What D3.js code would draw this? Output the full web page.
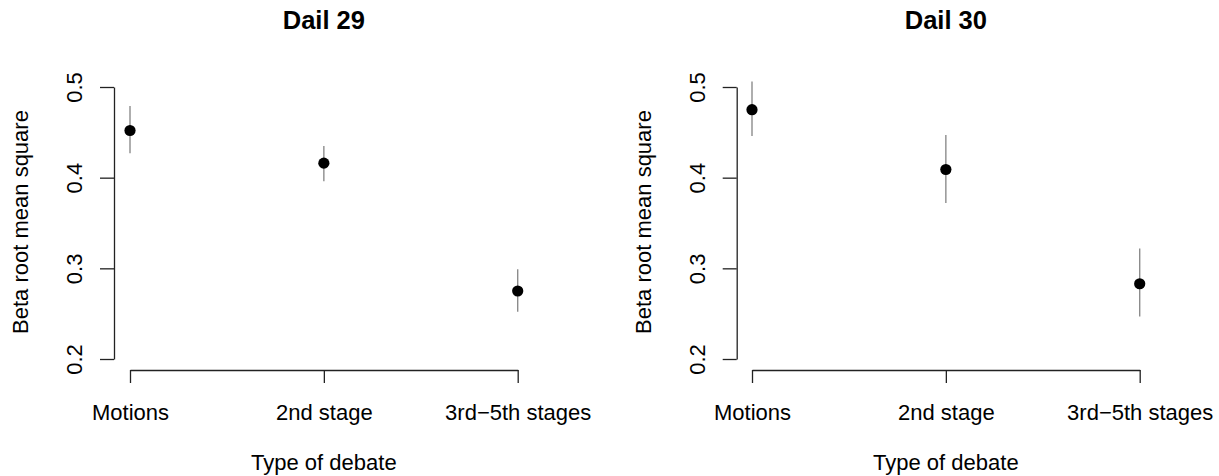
<!DOCTYPE html>
<head>
    <meta charset="utf-8">
    <style>
        body { margin: 0; background: #fff; font-family: 'Liberation Sans', Arial, sans-serif; }
        svg { position: absolute; top: 0; left: 0; }
        .panel-title { font-size: 25.5px; font-weight: bold; text-anchor: middle; fill: #000; }
        .axis-title { font-size: 22px; text-anchor: middle; fill: #000; }
        .axis text { font-family: 'Liberation Sans', Arial, sans-serif; font-size: 22px; fill: #000; }
        .axis path, .axis line { stroke: #222; stroke-width: 1.3; }
        .err { stroke: #8c8c8c; stroke-width: 1.4; }
        .pt { fill: #000; }
    </style>
    <script src="https://cdn.jsdelivr.net/npm/d3@7"></script>
</head>
<body>
<script>
////////////// Data //////////////

const categories = ["Motions", "2nd stage", "3rd\u22125th stages"]
const y_ticks = [0.2, 0.3, 0.4, 0.5]

const panel_titles = ["Dail 29", "Dail 30"]

//point estimates and interval ends
const dail29_est = [0.452, 0.416, 0.275]
const dail29_lo  = [0.427, 0.396, 0.252]
const dail29_hi  = [0.479, 0.435, 0.299]

const dail30_est = [0.475, 0.409, 0.283]
const dail30_lo  = [0.446, 0.372, 0.247]
const dail30_hi  = [0.506, 0.447, 0.322]

////////////// Layout //////////////

const W = 1219, H = 476
const svg = d3.select("body").append("svg")
    .attr("width", W)
    .attr("height", H)

//left edge of y axis and x range for each panel
const panels = [
    { title: panel_titles[0], est: dail29_est, lo: dail29_lo, hi: dail29_hi, axisX: 114, x0: 130, x1: 517.7 },
    { title: panel_titles[1], est: dail30_est, lo: dail30_lo, hi: dail30_hi, axisX: 736.7, x0: 752, x1: 1139.7 }
]

const y_scale = d3.scaleLinear()
    .domain([0.2, 0.5])
    .range([359, 87])

const x_axis_y = 370

panels.forEach(p => {
    const x_scale = d3.scalePoint()
        .domain(categories)
        .range([p.x0, p.x1])

    const g = svg.append("g")

    //title
    g.append("text")
        .attr("class", "panel-title")
        .attr("x", (p.x0 + p.x1) / 2)
        .attr("y", 28.5)
        .text(p.title)

    //y axis
    const y_axis = g.append("g")
        .attr("class", "axis y")
        .attr("transform", "translate(" + p.axisX + ",0)")
        .call(d3.axisLeft(y_scale)
            .tickValues(y_ticks)
            .tickFormat(d3.format(".1f"))
            .tickSize(14)
            .tickSizeOuter(0))
    y_axis.selectAll("text")
        .attr("x", null)
        .attr("dy", null)
        .attr("text-anchor", "middle")
        .attr("transform", "translate(-32,0) rotate(-90)")

    //x axis
    const x_axis = g.append("g")
        .attr("class", "axis x")
        .attr("transform", "translate(0," + x_axis_y + ")")
        .call(d3.axisBottom(x_scale)
            .tickSize(13)
            .tickSizeOuter(0))
    x_axis.selectAll("text")
        .attr("y", 50)
        .attr("dy", null)

    //axis titles
    g.append("text")
        .attr("class", "axis-title")
        .attr("transform", "translate(" + (p.axisX - 86) + "," + 222 + ") rotate(-90)")
        .text("Beta root mean square")

    g.append("text")
        .attr("class", "axis-title")
        .attr("x", (p.x0 + p.x1) / 2)
        .attr("y", 470)
        .text("Type of debate")

    //error bars
    g.selectAll(".err")
        .data(categories)
        .enter().append("line")
        .attr("class", "err")
        .attr("x1", d => x_scale(d))
        .attr("x2", d => x_scale(d))
        .attr("y1", (d, i) => y_scale(p.lo[i]))
        .attr("y2", (d, i) => y_scale(p.hi[i]))

    //points
    g.selectAll(".pt")
        .data(categories)
        .enter().append("circle")
        .attr("class", "pt")
        .attr("cx", d => x_scale(d))
        .attr("cy", (d, i) => y_scale(p.est[i]))
        .attr("r", 5.6)
})
</script>
</body>
